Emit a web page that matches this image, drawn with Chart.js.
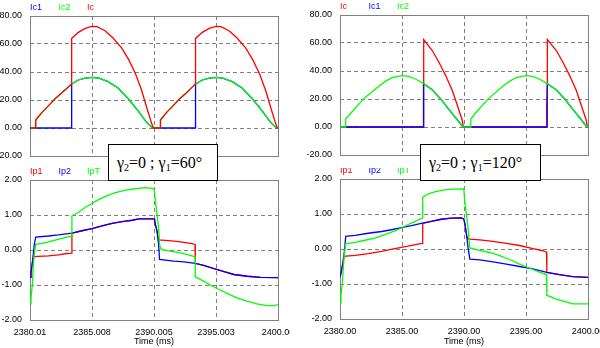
<!DOCTYPE html>
<html>
<head>
<meta charset="utf-8">
<script src="https://cdn.jsdelivr.net/npm/chart.js@4"></script>
<style>
  html, body { margin: 0; padding: 0; background: #fff; }
  #wrap { position: relative; width: 600px; height: 348px; overflow: hidden; }
  #wrap canvas { position: absolute; }
  .gbox {
    position: absolute; box-sizing: border-box; background: #fff; border: 1px solid #000;
    font: 16px "Liberation Serif", "Times New Roman", serif; line-height: 35px;
    padding-left: 8px; white-space: nowrap;
  }
  .gbox sub { font-size: 10px; vertical-align: -3px; line-height: 0; }
</style>
</head>
<body>
<div id="wrap">
  <canvas id="icA" width="290" height="168" style="left:0;top:0"></canvas>
  <canvas id="icB" width="300" height="168" style="left:300px;top:0"></canvas>
  <canvas id="ipA" width="290" height="180" style="left:0;top:168px"></canvas>
  <canvas id="ipB" width="300" height="180" style="left:300px;top:168px"></canvas>
  <div class="gbox" style="left:108px;top:144px;width:110px;height:37px">&gamma;<sub>2</sub>=0 ; &gamma;<sub>1</sub>=60&deg;</div>
  <div class="gbox" style="left:420px;top:144px;width:121px;height:37px">&gamma;<sub>2</sub>=0 ; &gamma;<sub>1</sub>=120&deg;</div>
</div>
<script>
// time axis is in ms after 2380 ms; each series is a list of [t, value]
const timeTicks60 = ['2380.01', '2385.008', '2390.005', '2395.003', '2400.00'];
const timeTicks120 = ['2380.00', '2385.00', '2390.00', '2395.00', '2400.00'];

// capacitor currents, gamma1 = 60 deg
const ic_60 = [[0,0],[0.46,0],[0.46,5.7],[0.95,11],[1.5,16],[2.0,20.7],[2.55,25],[3.0,28.5],[3.36,31.4],[3.36,64],[3.9,68.3],[4.45,71.2],[5.0,72.6],[5.4,72.4],[6.05,69.5],[6.7,64.3],[7.4,57],[7.95,49],[8.5,39],[9.0,27],[9.4,15],[9.8,3.5],[9.95,0],
  [10.52,0],[10.52,5.7],[11.0,11],[11.55,16],[12.05,20.7],[12.6,25],[13.0,28.5],[13.35,31.4],[13.35,64],[13.9,68.3],[14.45,71.2],[15.0,72.6],[15.4,72.4],[16.05,69.5],[16.7,64.3],[17.4,57],[17.95,49],[18.5,39],[19.0,27],[19.4,15],[19.8,3.5],[19.95,0],[20,0]];
const ic1_60 = [[0,0],[3.36,0],[3.36,31.4],[3.9,34.3],[4.45,35.7],[5.0,36.2],[5.55,35.7],[6.3,33.1],[7.1,28.6],[7.95,20.7],[8.75,11.9],[9.4,4],[9.9,0],
  [13.35,0],[13.35,31.4],[13.9,34.3],[14.45,35.7],[15.0,36.2],[15.55,35.7],[16.3,33.1],[17.1,28.6],[17.95,20.7],[18.75,11.9],[19.4,4],[19.9,0],[20,0]];
const ic2_60 = [[0,0],[0.46,0],[0.46,5.7],[0.95,11],[1.5,16],[2.0,20.7],[2.55,25],[3.0,28.5],[3.36,31.4],[3.9,34.3],[4.45,35.7],[5.0,36.2],[5.55,35.7],[6.3,33.1],[7.1,28.6],[7.95,20.7],[8.75,11.9],[9.4,4],[9.9,0],
  [10.52,0],[10.52,5.7],[11.0,11],[11.55,16],[12.05,20.7],[12.6,25],[13.0,28.5],[13.35,31.4],[13.9,34.3],[14.45,35.7],[15.0,36.2],[15.55,35.7],[16.3,33.1],[17.1,28.6],[17.95,20.7],[18.75,11.9],[19.4,4],[19.9,0],[20,0]];

// capacitor currents, gamma1 = 120 deg
const ic_120 = [[0,0],[6.75,0],[6.75,62.4],[7.43,54.8],[7.97,46.4],[8.51,36.9],[9.05,26.2],[9.46,15.5],[9.86,4.8],[9.95,0],
  [16.72,0],[16.72,62.4],[17.43,54.8],[17.97,46.4],[18.51,36.9],[19.05,26.2],[19.46,15.5],[19.86,4.8],[19.95,0],[20,0]];
const ic1_120 = [[0,0],[6.72,0],[6.72,15.5],[6.75,31],[7.43,26.7],[8.1,20.2],[8.78,12.6],[9.46,5.2],[9.92,0],
  [16.68,0],[16.68,15.5],[16.72,31],[17.43,26.7],[18.1,20.2],[18.78,12.6],[19.46,5.2],[19.92,0],[20,0]];
const ic2_120 = [[0,0],[0.46,0],[0.46,5.7],[0.95,10.7],[1.5,16.2],[2.03,21],[2.57,25],[3.1,29],[3.65,32.6],[4.2,35.2],[5.0,36.7],[5.55,36.2],[6.08,34.3],[6.75,31],[7.43,26.7],[8.1,20.2],[8.78,12.6],[9.46,5.2],[9.92,0],
  [10.55,0],[10.55,5.7],[11.0,10.7],[11.55,16.2],[12.05,21],[12.6,25],[13.1,29],[13.65,32.6],[14.2,35.2],[15.0,36.7],[15.55,36.2],[16.08,34.3],[16.72,31],[17.43,26.7],[18.1,20.2],[18.78,12.6],[19.46,5.2],[19.92,0],[20,0]];

// primary currents, gamma1 = 60 deg
const ip1_60 = [[0,-0.78],[0.08,-0.66],[0.19,-0.36],[0.3,-0.19],[1.49,-0.17],[2.3,-0.14],[2.97,-0.1],[3.36,-0.09],[3.38,0.48],[4.19,0.55],[5.0,0.61],[5.81,0.69],[6.62,0.76],[7.43,0.81],[8.24,0.85],[8.78,0.89],[10.0,0.89],[10.05,0.85],[10.1,0.74],[10.24,0.55],[10.37,0.29],
  [11.18,0.27],[11.99,0.24],[12.52,0.21],[13.06,0.18],[13.31,0.16],[13.33,-0.38],[14.0,-0.44],[14.84,-0.53],[15.65,-0.62],[16.45,-0.7],[17.53,-0.75],[18.6,-0.78],[20,-0.79]];
const ip2_60 = [[0,-0.78],[0.08,-0.66],[0.19,-0.36],[0.35,0.16],[0.46,0.37],[1.49,0.40],[2.3,0.43],[3.38,0.48],[4.19,0.55],[5.0,0.61],[5.81,0.69],[6.62,0.76],[7.43,0.81],[8.24,0.85],[8.78,0.89],[10.0,0.89],[10.05,0.85],[10.1,0.74],[10.24,0.55],[10.37,0.16],[10.45,-0.27],
  [11.6,-0.32],[12.42,-0.34],[13.33,-0.38],[14.0,-0.44],[14.84,-0.53],[15.65,-0.62],[16.45,-0.7],[17.53,-0.75],[18.6,-0.78],[20,-0.79]];
const ipT_60 = [[0,-1.54],[0.08,-1.38],[0.19,-1.0],[0.27,-0.41],[0.35,-0.12],[0.46,0.16],[0.95,0.19],[1.49,0.23],[2.03,0.28],[2.57,0.33],[2.97,0.37],[3.38,0.40],[3.38,0.97],[3.92,1.08],[4.46,1.22],[5.0,1.33],[5.54,1.44],[6.08,1.53],[6.89,1.64],[7.7,1.71],[8.51,1.75],[9.32,1.78],[9.86,1.76],[10.02,1.73],
  [10.1,1.45],[10.24,1.02],[10.37,0.64],[10.45,0.16],[10.56,0.02],[11.31,-0.03],[12.12,-0.08],[12.79,-0.14],[13.33,-0.2],[13.33,-0.77],[14.0,-0.89],[14.54,-1.0],[15.08,-1.1],[15.89,-1.24],[16.69,-1.37],[17.5,-1.46],[18.3,-1.54],[19.1,-1.59],[19.65,-1.59],[20,-1.56]];

// primary currents, gamma1 = 120 deg
const ip1_120 = [[0,-0.8],[0.11,-0.64],[0.3,-0.21],[1.21,-0.18],[2.28,-0.13],[3.35,-0.07],[4.42,0.01],[5.49,0.08],[6.29,0.14],[6.64,0.16],[6.67,0.73],[7.36,0.79],[8.17,0.85],[8.97,0.88],[9.77,0.89],[9.98,0.86],[10.06,0.74],[10.2,0.41],[10.33,0.28],
  [10.47,0.28],[11.27,0.26],[12.35,0.22],[13.42,0.16],[14.48,0.1],[15.56,0.01],[16.36,-0.05],[16.66,-0.09],[16.68,-0.67],[17.7,-0.73],[18.77,-0.79],[20,-0.81]];
const ip2_120 = [[0,-0.8],[0.11,-0.64],[0.27,-0.35],[0.4,0.1],[0.46,0.36],[1.21,0.39],[2.28,0.45],[3.35,0.5],[4.15,0.55],[4.95,0.61],[5.76,0.67],[6.56,0.73],[7.36,0.79],[8.17,0.85],[8.97,0.88],[9.77,0.89],[9.98,0.86],[10.06,0.74],[10.2,0.41],[10.33,0.03],
  [10.47,-0.29],[11.27,-0.31],[12.35,-0.37],[13.42,-0.43],[14.48,-0.5],[15.56,-0.57],[16.68,-0.67],[17.7,-0.73],[18.77,-0.79],[20,-0.81]];
const ipT_120 = [[0,-1.54],[0.08,-1.3],[0.19,-1.0],[0.27,-0.5],[0.35,-0.16],[0.46,0.15],[1.21,0.19],[2.01,0.25],[2.82,0.31],[3.62,0.41],[4.42,0.52],[4.95,0.6],[5.49,0.7],[6.02,0.78],[6.64,0.89],[6.67,1.48],[7.09,1.57],[7.63,1.63],[8.3,1.68],[8.97,1.71],[9.98,1.72],
  [10.06,1.36],[10.2,0.98],[10.33,0.6],[10.47,0.03],[11.27,-0.04],[12.08,-0.1],[12.88,-0.19],[13.68,-0.3],[14.48,-0.43],[15.29,-0.55],[16.09,-0.66],[16.66,-0.73],[16.68,-1.32],[17.43,-1.43],[18.23,-1.51],[18.77,-1.57],[20,-1.57]];

const RED = '#ff0000', BLUE = '#0000ff', GREEN = '#00ff00';
const GRID = '#808080';
const FONT = "'Liberation Sans Narrow', 'Arial Narrow', 'Liberation Sans', Arial, sans-serif";

// solid frame round the plot area (grid lines are dashed)
const framePlugin = {
  id: 'frame',
  beforeDatasetsDraw(chart) {
    const { ctx, chartArea: a } = chart;
    const l = Math.round(a.left), t = Math.round(a.top);
    ctx.save();
    ctx.strokeStyle = GRID;
    ctx.lineWidth = 1;
    ctx.strokeRect(l + 0.5, t + 0.5, Math.round(a.right) - l, Math.round(a.bottom) - t);
    ctx.restore();
  }
};

// series names written in their colour above the plot
const namesPlugin = {
  id: 'names',
  afterDraw(chart) {
    const { ctx, chartArea: a } = chart;
    ctx.save();
    ctx.font = '9px ' + FONT;
    ctx.textBaseline = 'middle';
    chart.data.datasets.forEach((ds, i) => {
      ctx.fillStyle = ds.borderColor;
      ctx.fillText(ds.label, a.left + i * 28.5, a.top - 8.5);
    });
    ctx.restore();
  }
};

function panel(id, p) {
  const el = document.getElementById(id);
  const W = el.width, H = el.height;
  const font = { family: FONT, size: 9 };
  return new Chart(el, {
    type: 'line',
    data: {
      datasets: p.series.map(s => ({
        label: s.label,
        data: s.data.map(d => ({ x: d[0], y: d[1] })),
        borderColor: s.color,
        borderWidth: 1.3,
        pointRadius: 0,
        tension: 0,
        fill: false,
        order: s.order
      }))
    },
    options: {
      responsive: false,
      animation: false,
      devicePixelRatio: 1,
      layout: { padding: { left: 0, top: p.top, right: W - p.right, bottom: 0 } },
      plugins: { legend: { display: false }, tooltip: { enabled: false } },
      scales: {
        x: {
          type: 'linear', min: 0, max: 20,
          ticks: {
            display: !!p.xLabels, stepSize: 5, autoSkip: false, maxRotation: 0,
            padding: 7, color: '#000', font,
            callback: (v, i) => p.xLabels ? p.xLabels[i] : ''
          },
          grid: { color: GRID, drawTicks: false },
          border: { display: false, dash: [4, 3] },
          title: { display: !!p.xLabels, text: 'Time (ms)', color: '#000', font, padding: { top: 0, bottom: 1.5 } },
          afterFit: s => { s.height = H - p.bottom; s.paddingLeft = 0; s.paddingRight = 0; }
        },
        y: {
          min: p.yMin, max: p.yMax,
          ticks: { stepSize: p.yStep, padding: 8, color: '#000', font, callback: v => v.toFixed(2) },
          grid: { color: GRID, drawTicks: false },
          border: { display: false, dash: [4, 3] },
          afterFit: s => { s.width = p.left; s.paddingTop = 0; s.paddingBottom = 0; }
        }
      }
    },
    plugins: [framePlugin, namesPlugin]
  });
}

panel('icA', {
  left: 30, top: 16, right: 278, bottom: 156, yMin: -20, yMax: 80, yStep: 20,
  series: [
    { label: 'Ic1', color: BLUE, data: ic1_60, order: 2 },
    { label: 'Ic2', color: GREEN, data: ic2_60, order: 1 },
    { label: 'Ic', color: RED, data: ic_60, order: 0 }
  ]
});
panel('icB', {
  left: 40, top: 15, right: 288, bottom: 155, yMin: -20, yMax: 80, yStep: 20,
  series: [
    { label: 'Ic', color: RED, data: ic_120, order: 2 },
    { label: 'Ic1', color: BLUE, data: ic1_120, order: 1 },
    { label: 'Ic2', color: GREEN, data: ic2_120, order: 0 }
  ]
});
panel('ipA', {
  left: 30, top: 12, right: 278, bottom: 152, yMin: -2, yMax: 2, yStep: 1, xLabels: timeTicks60,
  series: [
    { label: 'Ip1', color: RED, data: ip1_60, order: 2 },
    { label: 'Ip2', color: BLUE, data: ip2_60, order: 1 },
    { label: 'IpT', color: GREEN, data: ipT_60, order: 0 }
  ]
});
panel('ipB', {
  left: 40, top: 11, right: 288, bottom: 151, yMin: -2, yMax: 2, yStep: 1, xLabels: timeTicks120,
  series: [
    { label: 'Ip1', color: RED, data: ip1_120, order: 2 },
    { label: 'Ip2', color: BLUE, data: ip2_120, order: 1 },
    { label: 'IpT', color: GREEN, data: ipT_120, order: 0 }
  ]
});
</script>
</body>
</html>
